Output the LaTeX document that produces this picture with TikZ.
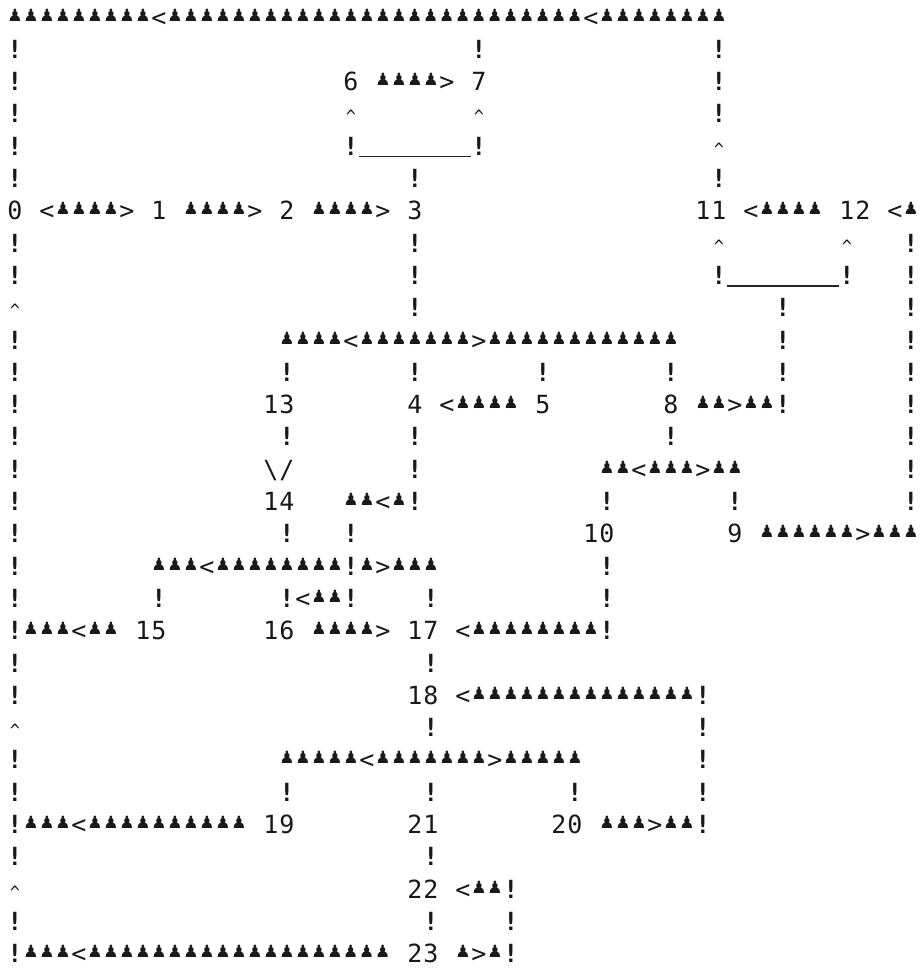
\documentclass[tikz,border=0pt]{standalone}
\usepackage{fontspec}
\setmonofont{DejaVu Sans Mono}
\newfontfamily\pawnfont{DejaVu Sans}
\newlength\cellw
\setlength\cellw{16pt}
\newcommand\pawnglyph{\raisebox{5pt}{\pawnfont\fontsize{17}{17}\selectfont ♟}}
\newcommand\caretglyph{{\fontsize{17}{17}\selectfont\textasciicircum}}
\newcommand\bangglyph{{\bfseries !}}
\makeatletter
\def\cellchar{\if a\cc\pawnglyph\else\if .\cc\else\if c\cc\caretglyph\else\if b\cc\textbackslash\else\if !\cc\bangglyph\else\cc\fi\fi\fi\fi\fi}
\newcommand\cells[1]{\@tfor\cc:=#1\do{\makebox[\cellw]{\cellchar}}}
\makeatother
\tikzset{
  cellrow/.style={anchor=base west, inner sep=0pt, outer sep=0pt, text=black!90,
    font=\ttfamily\fontsize{25}{25}\selectfont},
  uline/.style={line width=1.3pt, black!85},
}
% name, row, column, cells
\newcommand\rowseg[4]{\node[cellrow] (#1) at ({16*(#3)+7},{26+((#2)-1)*32.3}) {\cells{#4}};}
\begin{document}
\begin{tikzpicture}[x=1pt,y=-1pt]
\fill[white] (0,0) rectangle (922,972);
\useasboundingbox (0,0) rectangle (922,972);
% row 1
\rowseg{r1}{1}{0}{aaaaaaaaa<aaaaaaaaaaaaaaaaaaaaaaaaaa<aaaaaaaa}
% row 2
\rowseg{r2a}{2}{0}{!}\rowseg{r2b}{2}{29}{!}\rowseg{r2c}{2}{44}{!}
% row 3
\rowseg{r3a}{3}{0}{!}\rowseg{r3b}{3}{21}{6.aaaa>.7}\rowseg{r3c}{3}{44}{!}
% row 4
\rowseg{r4a}{4}{0}{!}\rowseg{r4b}{4}{21}{c}\rowseg{r4c}{4}{29}{c}\rowseg{r4d}{4}{44}{!}
% row 5
\rowseg{r5a}{5}{0}{!}\rowseg{r5b}{5}{21}{!}\rowseg{r5c}{5}{29}{!}\rowseg{r5d}{5}{44}{c}
\draw[uline] ([yshift=-1.5pt]r5b.base east) -- ([yshift=-1.5pt]r5c.base west);
% row 6
\rowseg{r6a}{6}{0}{!}\rowseg{r6b}{6}{25}{!}\rowseg{r6c}{6}{44}{!}
% row 7
\rowseg{r7a}{7}{0}{0.<aaaa>.1.aaaa>.2.aaaa>.3}\rowseg{r7b}{7}{43}{11.<aaaa.12.<a}
% row 8
\rowseg{r8a}{8}{0}{!}\rowseg{r8b}{8}{25}{!}\rowseg{r8c}{8}{44}{c}\rowseg{r8d}{8}{52}{c}\rowseg{r8e}{8}{56}{!}
% row 9
\rowseg{r9a}{9}{0}{!}\rowseg{r9b}{9}{25}{!}\rowseg{r9c}{9}{44}{!}\rowseg{r9d}{9}{52}{!}\rowseg{r9e}{9}{56}{!}
\draw[uline] ([yshift=-1.5pt]r9c.base east) -- ([yshift=-1.5pt]r9d.base west);
% row 10
\rowseg{r10a}{10}{0}{c}\rowseg{r10b}{10}{25}{!}\rowseg{r10c}{10}{48}{!}\rowseg{r10d}{10}{56}{!}
% row 11
\rowseg{r11a}{11}{0}{!}\rowseg{r11b}{11}{17}{aaaa<aaaaaaa>aaaaaaaaaaaa}\rowseg{r11c}{11}{48}{!}\rowseg{r11d}{11}{56}{!}
% row 12
\rowseg{r12a}{12}{0}{!}\rowseg{r12b}{12}{17}{!}\rowseg{r12c}{12}{25}{!}\rowseg{r12d}{12}{33}{!}
\rowseg{r12e}{12}{41}{!}\rowseg{r12f}{12}{48}{!}\rowseg{r12g}{12}{56}{!}
% row 13
\rowseg{r13a}{13}{0}{!}\rowseg{r13b}{13}{16}{13}\rowseg{r13c}{13}{25}{4.<aaaa.5}\rowseg{r13d}{13}{41}{8.aa>aa!}\rowseg{r13e}{13}{56}{!}
% row 14
\rowseg{r14a}{14}{0}{!}\rowseg{r14b}{14}{17}{!}\rowseg{r14c}{14}{25}{!}\rowseg{r14d}{14}{41}{!}\rowseg{r14e}{14}{56}{!}
% row 15
\rowseg{r15a}{15}{0}{!}\rowseg{r15b}{15}{16}{b/}\rowseg{r15c}{15}{25}{!}\rowseg{r15d}{15}{37}{aa<aaa>aa}\rowseg{r15e}{15}{56}{!}
% row 16
\rowseg{r16a}{16}{0}{!}\rowseg{r16b}{16}{16}{14}\rowseg{r16c}{16}{21}{aa<a!}\rowseg{r16d}{16}{37}{!}\rowseg{r16e}{16}{45}{!}\rowseg{r16f}{16}{56}{!}
% row 17
\rowseg{r17a}{17}{0}{!}\rowseg{r17b}{17}{17}{!}\rowseg{r17c}{17}{21}{!}\rowseg{r17d}{17}{36}{10}\rowseg{r17e}{17}{45}{9.aaaaaa>aaa}
% row 18
\rowseg{r18a}{18}{0}{!}\rowseg{r18b}{18}{9}{aaa<aaaaaaaa!a>aaa}\rowseg{r18c}{18}{37}{!}
% row 19
\rowseg{r19a}{19}{0}{!}\rowseg{r19b}{19}{9}{!}\rowseg{r19c}{19}{17}{!<aa!}\rowseg{r19d}{19}{26}{!}\rowseg{r19e}{19}{37}{!}
% row 20
\rowseg{r20a}{20}{0}{!aaa<aa.15}\rowseg{r20b}{20}{16}{16.aaaa>.17.<aaaaaaaa!}
% row 21
\rowseg{r21a}{21}{0}{!}\rowseg{r21b}{21}{26}{!}
% row 22
\rowseg{r22a}{22}{0}{!}\rowseg{r22b}{22}{25}{18.<aaaaaaaaaaaaaa!}
% row 23
\rowseg{r23a}{23}{0}{c}\rowseg{r23b}{23}{26}{!}\rowseg{r23c}{23}{43}{!}
% row 24
\rowseg{r24a}{24}{0}{!}\rowseg{r24b}{24}{17}{aaaaa<aaaaaaa>aaaaa}\rowseg{r24c}{24}{43}{!}
% row 25
\rowseg{r25a}{25}{0}{!}\rowseg{r25b}{25}{17}{!}\rowseg{r25c}{25}{26}{!}\rowseg{r25d}{25}{35}{!}\rowseg{r25e}{25}{43}{!}
% row 26
\rowseg{r26a}{26}{0}{!aaa<aaaaaaaaaa.19}\rowseg{r26b}{26}{25}{21}\rowseg{r26c}{26}{34}{20.aaa>aa!}
% row 27
\rowseg{r27a}{27}{0}{!}\rowseg{r27b}{27}{26}{!}
% row 28
\rowseg{r28a}{28}{0}{c}\rowseg{r28b}{28}{25}{22.<aa!}
% row 29
\rowseg{r29a}{29}{0}{!}\rowseg{r29b}{29}{26}{!}\rowseg{r29c}{29}{31}{!}
% row 30
\rowseg{r30a}{30}{0}{!aaa<aaaaaaaaaaaaaaaaaaa.23.a>a!}
\end{tikzpicture}
\end{document}
